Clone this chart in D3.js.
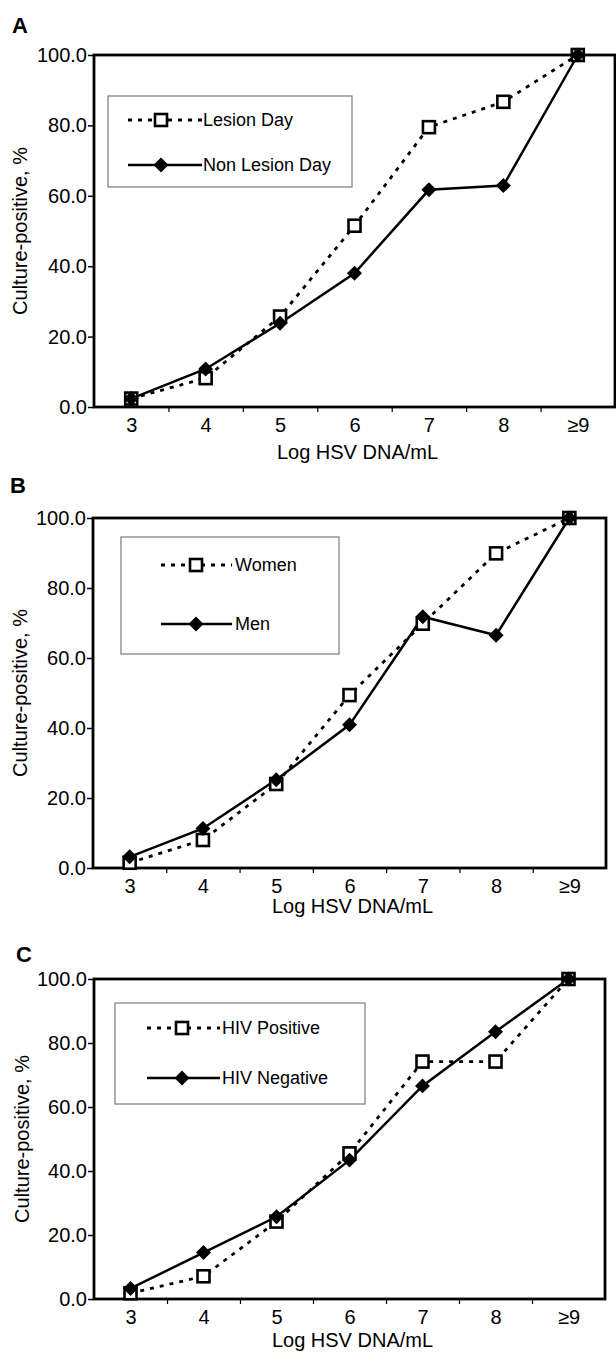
<!DOCTYPE html>
<html>
<head>
<meta charset="utf-8">
<script src="https://cdn.jsdelivr.net/npm/d3@7.9.0/dist/d3.min.js"></script>
<style>
  body { margin: 0; background: #fff; }
  svg { display: block; }
  text { font-family: "Liberation Sans", Arial, Helvetica, sans-serif; fill: #000; }
</style>
</head>
<body>
<svg id="chart" width="616" height="1353"></svg>
<script>
const categories = ['3', '4', '5', '6', '7', '8', '≥9'];
const yTicks = [0, 20, 40, 60, 80, 100];

// panel A
const lesionDay    = [2.4, 8.2, 25.7, 51.5, 79.5, 86.7, 100];
const nonLesionDay = [2.4, 10.8, 23.8, 38.0, 61.7, 62.9, 100];
// panel B
const women = [1.5, 8.0, 24.0, 49.4, 69.8, 89.9, 100];
const men   = [3.2, 11.3, 25.2, 40.9, 71.8, 66.5, 100];
// panel C
const hivPositive = [1.8, 7.1, 24.2, 45.5, 74.2, 74.2, 100];
const hivNegative = [3.3, 14.5, 25.7, 43.4, 66.6, 83.5, 100];

const panels = [
  { letter: 'A', box: [94, 615, 55, 407], letterAt: [12, 33], yLabX: 27, xLabY: 459,
    legend: { x: 108, y: 96, w: 244, h: 91, lx0: 128, lx1: 202, mx: 161, tx: 203, rows: [120, 165] },
    series: [{ name: 'Lesion Day', values: lesionDay, open: true },
             { name: 'Non Lesion Day', values: nonLesionDay, open: false }] },
  { letter: 'B', box: [93, 606, 518, 868], letterAt: [10, 493], yLabX: 27, xLabY: 913,
    legend: { x: 121, y: 537, w: 218, h: 117, lx0: 161, lx1: 232, mx: 196, tx: 235, rows: [565, 624] },
    series: [{ name: 'Women', values: women, open: true },
             { name: 'Men', values: men, open: false }] },
  { letter: 'C', box: [94, 605, 979, 1299], letterAt: [16, 962], yLabX: 29, xLabY: 1347,
    legend: { x: 115, y: 1003, w: 250, h: 101, lx0: 147, lx1: 220, mx: 182, tx: 222, rows: [1028, 1078] },
    series: [{ name: 'HIV Positive', values: hivPositive, open: true },
             { name: 'HIV Negative', values: hivNegative, open: false }] }
];

const svg = d3.select('#chart');
const diamond = d3.symbol().type(d3.symbolSquare).size(112);

function drawMarker(g, cx, cy, open) {
  if (open) {
    g.append('rect')
      .attr('x', cx - 6).attr('y', cy - 6)
      .attr('width', 12).attr('height', 12)
      .attr('fill', '#fff').attr('stroke', '#000').attr('stroke-width', 2.6);
  } else {
    g.append('path')
      .attr('d', diamond())
      .attr('transform', `translate(${cx},${cy}) rotate(45)`)
      .attr('fill', '#000');
  }
}

panels.forEach(p => {
  const [x0, x1, y0, y1] = p.box;
  const g = svg.append('g');

  let x = d3.scalePoint().domain(categories).range([x0, x1]).padding(0.5);
  let y = d3.scaleLinear().domain([0, 100]).range([y1, y0]);
  let slots = d3.scaleLinear().domain([0, categories.length]).range([x0, x1]);

  // y axis ticks and labels
  g.append('g')
    .attr('transform', `translate(${x0},0)`)
    .call(d3.axisLeft(y).tickValues(yTicks).tickFormat(d3.format('.1f')).tickSize(6).tickPadding(1))
    .call(a => a.select('.domain').remove())
    .call(a => a.selectAll('line').attr('stroke', '#000').attr('stroke-width', 1.5))
    .call(a => a.selectAll('text').attr('font-size', 20).attr('font-family', null));

  // x axis category labels
  g.append('g')
    .attr('transform', `translate(0,${y1})`)
    .call(d3.axisBottom(x).tickSize(0).tickPadding(11))
    .call(a => a.select('.domain').remove())
    .call(a => a.selectAll('text').attr('font-size', 20).attr('font-family', null));

  // tick marks between categories
  g.append('g')
    .attr('transform', `translate(0,${y1})`)
    .call(d3.axisBottom(slots).tickValues(d3.range(1, categories.length)).tickSize(5).tickFormat(''))
    .call(a => a.select('.domain').remove())
    .call(a => a.selectAll('line').attr('stroke', '#000').attr('stroke-width', 1.2));

  // plot frame
  g.append('rect')
    .attr('x', x0).attr('y', y0)
    .attr('width', x1 - x0).attr('height', y1 - y0)
    .attr('fill', 'none').attr('stroke', '#000').attr('stroke-width', 2.8);

  // legend box
  const L = p.legend;
  g.append('rect')
    .attr('x', L.x).attr('y', L.y).attr('width', L.w).attr('height', L.h)
    .attr('fill', '#fff').attr('stroke', '#7a7a7a').attr('stroke-width', 1.2);

  const line = d3.line().x((d, i) => x(categories[i])).y(d => y(d));

  p.series.forEach((s, si) => {
    g.append('path')
      .datum(s.values)
      .attr('d', line)
      .attr('fill', 'none')
      .attr('stroke', '#000')
      .attr('stroke-width', s.open ? 2.8 : 2.5)
      .attr('stroke-dasharray', s.open ? '4,6' : null);

    const ly = L.rows[si];
    g.append('line')
      .attr('x1', L.lx0).attr('x2', L.lx1).attr('y1', ly).attr('y2', ly)
      .attr('stroke', '#000')
      .attr('stroke-width', s.open ? 2.8 : 2.5)
      .attr('stroke-dasharray', s.open ? '4,6' : null);
    drawMarker(g, L.mx, ly, s.open);
    g.append('text')
      .attr('x', L.tx).attr('y', ly)
      .attr('dy', '0.36em')
      .attr('font-size', 18)
      .text(s.name);
  });

  // markers: open squares first, then filled diamonds
  p.series.forEach(s => {
    s.values.forEach((v, i) => drawMarker(g, x(categories[i]), y(v), s.open));
  });

  // panel letter
  g.append('text')
    .attr('x', p.letterAt[0]).attr('y', p.letterAt[1])
    .attr('font-size', 22).attr('font-weight', 'bold')
    .text(p.letter);

  // axis titles
  g.append('text')
    .attr('transform', `translate(${p.yLabX},${(y0 + y1) / 2}) rotate(-90)`)
    .attr('text-anchor', 'middle')
    .attr('font-size', 20)
    .text('Culture-positive, %');

  g.append('text')
    .attr('x', (x0 + x1) / 2 + 3).attr('y', p.xLabY)
    .attr('text-anchor', 'middle')
    .attr('font-size', 20)
    .text('Log HSV DNA/mL');
});
</script>
</body>
</html>
